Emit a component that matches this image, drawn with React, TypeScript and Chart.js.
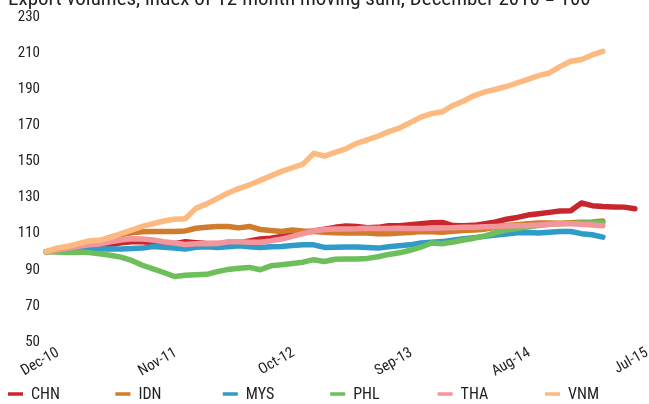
import React, { useEffect, useRef } from "react";
import { Chart, registerables } from "chart.js";

Chart.register(...registerables);

const TITLE = "Export volumes, index of 12-month moving sum, December 2010 = 100";

const MONTHS = [
  "Dec-10",
  "Jan-11", "Feb-11", "Mar-11", "Apr-11", "May-11", "Jun-11", "Jul-11", "Aug-11", "Sep-11", "Oct-11", "Nov-11", "Dec-11",
  "Jan-12", "Feb-12", "Mar-12", "Apr-12", "May-12", "Jun-12", "Jul-12", "Aug-12", "Sep-12", "Oct-12", "Nov-12", "Dec-12",
  "Jan-13", "Feb-13", "Mar-13", "Apr-13", "May-13", "Jun-13", "Jul-13", "Aug-13", "Sep-13", "Oct-13", "Nov-13", "Dec-13",
  "Jan-14", "Feb-14", "Mar-14", "Apr-14", "May-14", "Jun-14", "Jul-14", "Aug-14", "Sep-14", "Oct-14", "Nov-14", "Dec-14",
  "Jan-15", "Feb-15", "Mar-15", "Apr-15", "May-15", "Jun-15", "Jul-15",
];

const TICK_LABELS = ["Dec-10", "Nov-11", "Oct-12", "Sep-13", "Aug-14", "Jul-15"];

const SERIES_NAMES = ["CHN", "IDN", "MYS", "PHL", "THA", "VNM"];
const COLORS = ["#c8262d", "#d17b2c", "#2f9bc8", "#6cbf5a", "#f4959b", "#fdba80"];

const CHN = [
  100, 101, 101.5, 102, 103, 103.5, 104, 105, 105.5, 105.5,
  105, 104.5, 104.5, 105.5, 105, 104.5, 104.5, 104.5, 105, 106,
  107, 107.5, 108.5, 109.5, 110.5, 111.5, 112.5, 113.5, 114.3, 114,
  113.3, 113.5, 114.4, 114.4, 115, 115.5, 116, 116.2, 114.5, 114.4,
  114.6, 115.5, 116.5, 118, 119, 120.3, 121, 121.8, 122.5, 122.7,
  127, 125.5, 125, 124.8, 124.7, 123.8,
];

const IDN = [
  100, 101, 102, 103.5, 104.5, 106, 108, 109.5, 110.5, 111,
  111.2, 111.2, 111.2, 111.5, 113, 113.5, 114, 114, 113.2, 114,
  112.3, 111.8, 111.2, 112, 111.5, 111.2, 110.8, 110.5, 110.4, 110.4,
  110.3, 110, 110, 110.3, 110.7, 111.2, 111, 110.8, 111.3, 111.8,
  112, 112.5, 113.5, 114.5, 115, 115.5, 115.9, 115.9, 115.8, 116,
  116.3, 116.5, 117,
];

const MYS = [
  100, 100.5, 101, 101.5, 101.8, 101.5, 101.5, 101.5, 101.8, 102,
  102.9, 102.5, 102, 101.5, 102.5, 102.8, 102.4, 102.8, 103.3, 102.8,
  102.4, 102.7, 102.9, 103.5, 103.9, 103.8, 102.4, 102.5, 102.6, 102.6,
  102.3, 102, 102.8, 103.3, 103.8, 104.8, 105.2, 105.6, 106.4, 107.2,
  107.8, 108.5, 109.2, 109.8, 110.5, 110.7, 110.4, 110.8, 111.2, 111.2,
  110, 109.4, 108.1,
];

const PHL = [
  100, 99.8, 99.6, 99.8, 99.5, 98.8, 98, 97, 95.2, 92.5,
  90.5, 88.5, 86.3, 87, 87.3, 87.5, 89, 90.2, 90.8, 91.3,
  90, 92.2, 92.8, 93.5, 94.2, 95.6, 94.6, 95.8, 96, 96,
  96.3, 97.2, 98.5, 99.4, 100.8, 102.5, 104.8, 104.4, 105.3, 106.5,
  107.5, 108.8, 110.5, 112, 112.8, 113.8, 114.5, 115.2, 115.5, 115.7,
  115.9, 116, 116.2,
];

const THA = [
  100, 101, 102, 103, 103.8, 104.3, 105.5, 106.5, 107.2, 107,
  106.5, 105.5, 104.8, 104, 104.4, 104.4, 104.5, 105.5, 105.5, 105.2,
  105.3, 106, 107, 108.5, 110, 111.5, 112.3, 112.6, 112.6, 112.7,
  113, 112.8, 112.8, 113, 112.8, 112.8, 113, 113.2, 113.3, 113.5,
  113.6, 113.8, 114, 114.2, 114.4, 114.5, 114.8, 115.2, 115.5, 115.5,
  115.2, 114.8, 114.4,
];

const VNM = [
  100, 102, 103, 104.5, 106, 106.3, 107.8, 110, 112, 114,
  115.5, 117, 118, 118.3, 124, 126.5, 129.5, 132.5, 135, 137,
  139.5, 142, 144.5, 146.5, 148.5, 154.5, 153, 155, 157, 160,
  162, 164, 166.5, 168.5, 171.5, 174.5, 176.5, 177.5, 181, 183.5,
  186.5, 188.5, 190, 191.5, 193.5, 195.5, 197.5, 199, 202.5, 205.5,
  206.5, 209, 211,
];

const SERIES_VALUES = [CHN, IDN, MYS, PHL, THA, VNM];

const Y_MIN = 50;
const Y_MAX = 230;
const Y_STEP = 20;

const FONT = "'Roboto Condensed', 'Roboto', sans-serif";
const TEXT_COLOR = "#222222";

const overlayPlugin = {
  id: "overlay",
  afterDraw(chart: any) {
    const ctx = chart.ctx;
    ctx.save();
    ctx.fillStyle = TEXT_COLOR;
    ctx.textAlign = "left";
    ctx.textBaseline = "alphabetic";
    ctx.font = `21px ${FONT}`;
    ctx.fillText(TITLE, 8, 5);

    ctx.font = `16px ${FONT}`;
    ctx.textBaseline = "middle";
    SERIES_NAMES.forEach((name, i) => {
      const x = 8 + i * 107.4;
      const y = 394;
      ctx.strokeStyle = COLORS[i];
      ctx.lineWidth = 3.5;
      ctx.lineCap = "butt";
      ctx.beginPath();
      ctx.moveTo(x, y);
      ctx.lineTo(x + 15, y);
      ctx.stroke();
      ctx.fillText(name, x + 23, y + 1);
    });
    ctx.restore();
  },
};

export default function App() {
  const canvasRef = useRef<HTMLCanvasElement | null>(null);

  useEffect(() => {
    if (!canvasRef.current) return;
    const datasets = SERIES_NAMES.map((name, i) => ({
      label: name,
      data: SERIES_VALUES[i],
      borderColor: COLORS[i],
      backgroundColor: COLORS[i],
      borderWidth: 5.5,
      pointRadius: 0,
      tension: 0,
      fill: false,
      borderCapStyle: "round" as const,
      borderJoinStyle: "round" as const,
      order: SERIES_NAMES.length - 1 - i,
    }));

    const chart = new Chart(canvasRef.current, {
      type: "line",
      data: { labels: MONTHS, datasets },
      options: {
        responsive: true,
        maintainAspectRatio: false,
        animation: false,
        layout: { padding: { top: 17, right: 14, bottom: 0, left: 0 } },
        plugins: {
          legend: { display: false },
          tooltip: { enabled: false },
          title: { display: false },
        },
        scales: {
          x: {
            type: "category",
            offset: false,
            grid: { display: false, drawTicks: false },
            border: { display: false },
            ticks: {
              autoSkip: false,
              minRotation: 30,
              maxRotation: 30,
              padding: 2,
              labelOffset: 12,
              color: TEXT_COLOR,
              font: { family: FONT, size: 15 },
              callback: (_v: any, i: number) => (TICK_LABELS.includes(MONTHS[i]) ? MONTHS[i] : ""),
            },
            afterFit: (s: any) => {
              s.height = 62;
            },
          },
          y: {
            min: Y_MIN,
            max: Y_MAX,
            grid: { display: false, drawTicks: false },
            border: { display: false },
            ticks: {
              stepSize: Y_STEP,
              padding: 6,
              color: TEXT_COLOR,
              font: { family: FONT, size: 15 },
            },
            afterFit: (s: any) => {
              s.width = 46;
            },
          },
        },
      },
      plugins: [overlayPlugin],
    });
    return () => chart.destroy();
  }, []);

  return (
    <div style={{ position: "fixed", left: 0, top: 0, width: 649, height: 404, background: "#fff" }}>
      <canvas ref={canvasRef} />
    </div>
  );
}
